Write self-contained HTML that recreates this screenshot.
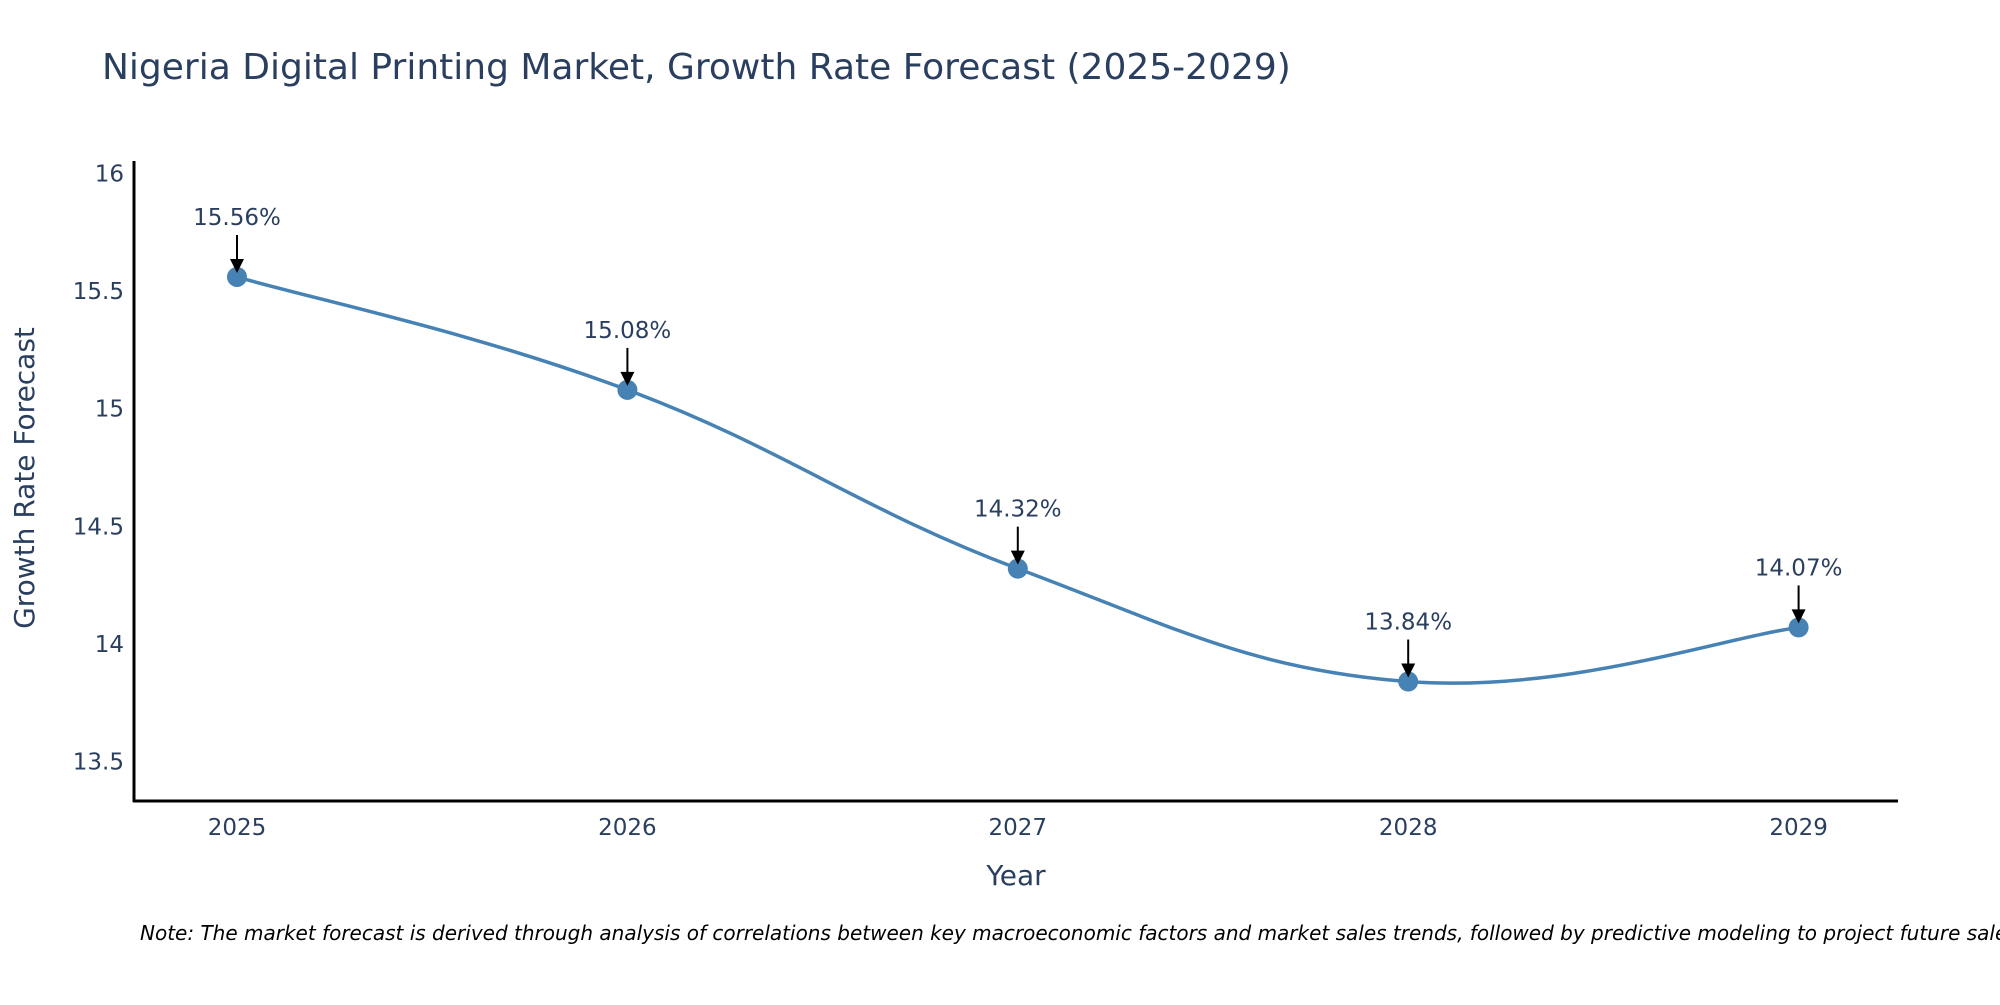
<!DOCTYPE html>
<html><head><meta charset="utf-8">
<style>
body{margin:0;background:#fff;}
svg{font-family:"DejaVu Sans","Liberation Sans",sans-serif;}
</style></head>
<body>
<svg width="2000" height="1000" viewBox="0 0 2000 1000" xmlns="http://www.w3.org/2000/svg">
<text x="102" y="79" font-size="36" fill="#2a3f5f">Nigeria Digital Printing Market, Growth Rate Forecast (2025-2029)</text>
<g id="yticks"></g>
<g id="xticks"></g>
<line x1="134" y1="161" x2="134" y2="802" stroke="#000" stroke-width="3"/>
<line x1="133" y1="801" x2="1898" y2="801" stroke="#000" stroke-width="3"/>
<path id="line" fill="none" stroke="#4682B4" stroke-width="3.5"/>
<g id="marks"></g>
<text x="1016" y="885" font-size="28" fill="#2a3f5f" text-anchor="middle">Year</text>
<text transform="translate(34,478) rotate(-90)" font-size="28" fill="#2a3f5f" text-anchor="middle">Growth Rate Forecast</text>
<text x="140" y="940" font-size="20" font-style="italic" fill="#000">Note: The market forecast is derived through analysis of correlations between key macroeconomic factors and market sales trends, followed by predictive modeling to project future sales.</text>
</svg>
<script>
const years=[2025,2026,2027,2028,2029];
const values=[15.56,15.08,14.32,13.84,14.07];
const labels=["15.56%","15.08%","14.32%","13.84%","14.07%"];
const yTicks=[13.5,14,14.5,15,15.5,16];
const yTickLabels=["13.5","14","14.5","15","15.5","16"];
const NS="http://www.w3.org/2000/svg";
function xs(v){return 237+(v-2025)*390.4;}
function ys(v){return 173.5+(16-v)*235.2;}
function mk(t,a,p){const e=document.createElementNS(NS,t);for(const k in a)e.setAttribute(k,a[k]);p.appendChild(e);return e;}
const yt=document.getElementById('yticks');
yTicks.forEach((v,i)=>{const t=mk('text',{x:124,y:ys(v)+8,'font-size':23,fill:'#2a3f5f','text-anchor':'end'},yt);t.textContent=yTickLabels[i];

});
const xt=document.getElementById('xticks');
years.forEach(v=>{const t=mk('text',{x:xs(v),y:835,'font-size':23,fill:'#2a3f5f','text-anchor':'middle'},xt);t.textContent=String(v);

});
const P=years.map((y,i)=>[xs(y),ys(values[i])]);
let d='M'+P[0][0]+','+P[0][1];const s=0.2;
for(let i=0;i<P.length-1;i++){const p0=P[Math.max(0,i-1)],p1=P[i],p2=P[i+1],p3=P[Math.min(P.length-1,i+2)];
const c1=[p1[0]+(p2[0]-p0[0])*s,p1[1]+(p2[1]-p0[1])*s],c2=[p2[0]-(p3[0]-p1[0])*s,p2[1]-(p3[1]-p1[1])*s];
d+=' C'+c1+' '+c2+' '+p2;}
document.getElementById('line').setAttribute('d',d);
const g=document.getElementById('marks');
P.forEach((p,i)=>{const c=mk('circle',{cx:p[0],cy:p[1],r:10,fill:'#4682B4'},g);


const l=mk('line',{x1:p[0],y1:p[1]-42,x2:p[0],y2:p[1]-14,stroke:'#000','stroke-width':2},g);


const a=mk('polygon',{points:(p[0]-7)+','+(p[1]-18)+' '+(p[0]+7)+','+(p[1]-18)+' '+p[0]+','+(p[1]-4),fill:'#000'},g);


const t=mk('text',{x:p[0],y:p[1]-52,'font-size':23,fill:'#2a3f5f','text-anchor':'middle'},g);t.textContent=labels[i];

});
</script>
</body></html>
